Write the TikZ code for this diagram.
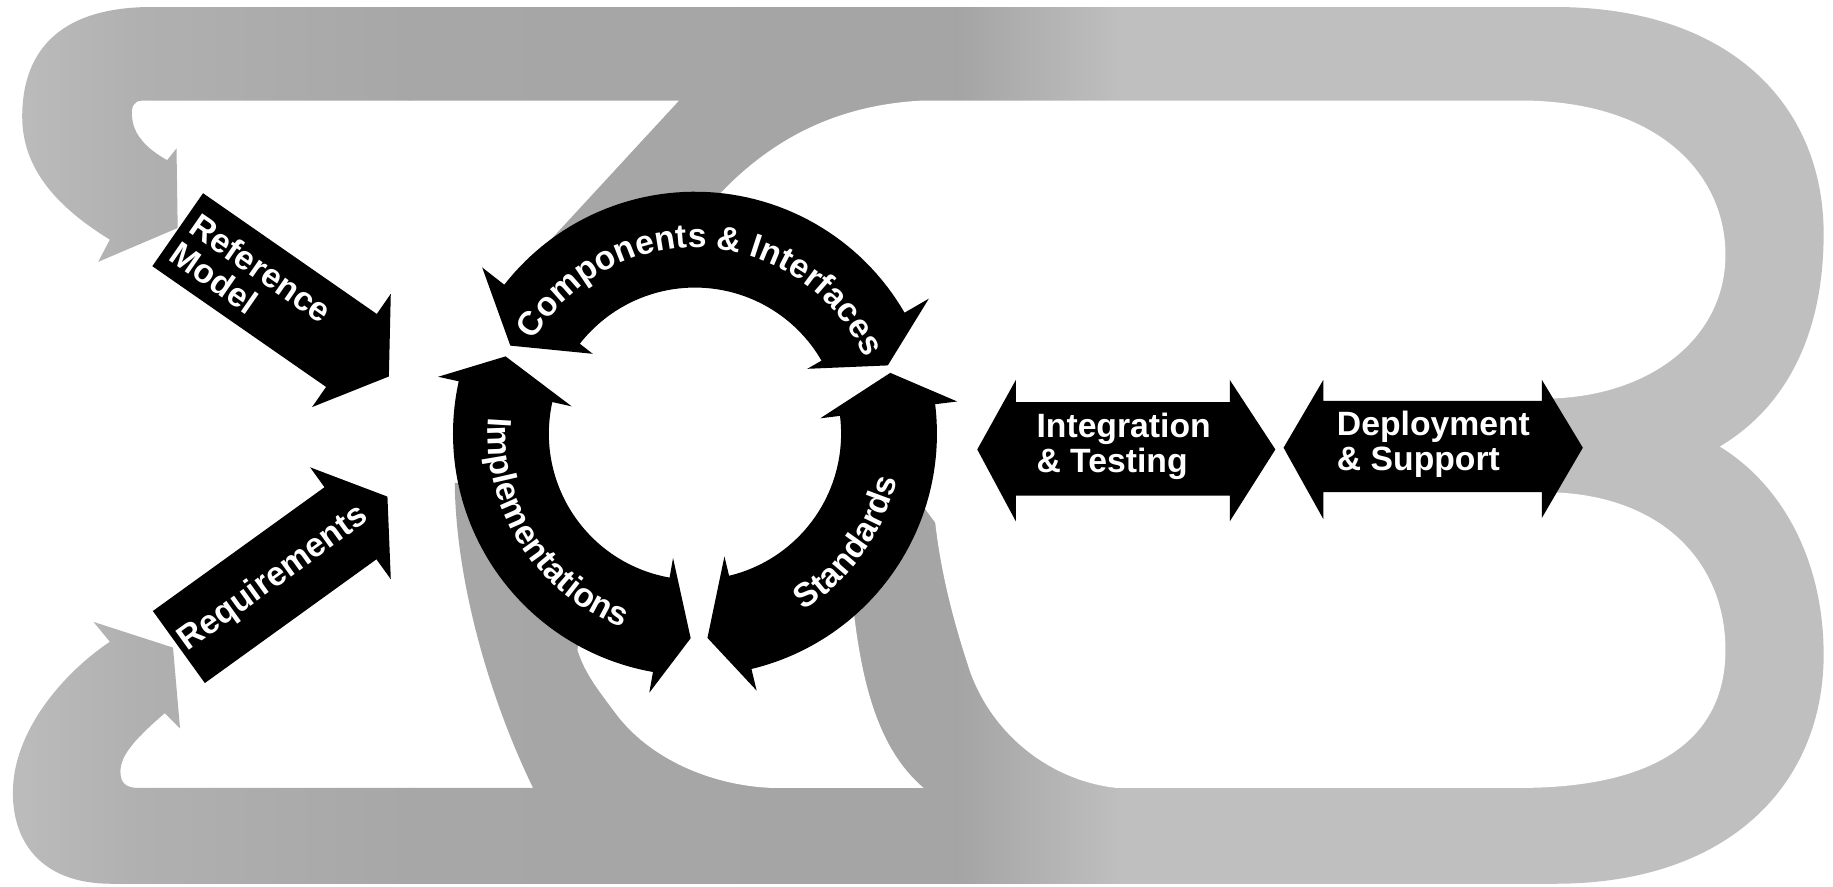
\documentclass[tikz,border=0pt]{standalone}
\usepackage{fontspec}
\setmainfont{Liberation Sans}
\usetikzlibrary{decorations.text}
\definecolor{gA}{gray}{0.74}
\definecolor{gB}{gray}{0.69}
\definecolor{gC}{gray}{0.655}
\definecolor{gD}{gray}{0.645}
\definecolor{gE}{gray}{0.75}
\tikzset{
  lbl/.style={text=white, font=\bfseries\fontsize{8.2}{8.4}\selectfont, inner sep=0pt},
  blackfill/.style={fill=black},
}
\newcommand{\ringarrow}[6]{%
  \fill[blackfill] (#1:175) -- (#2:#5) -- (#2:207)
    -- plot[domain=#2:#3, samples=60, variable=\t] (\t:207)
    -- (#3:#5) -- (#4:175) -- (#3:#6) -- (#3:125)
    -- plot[domain=#3:#2, samples=60, variable=\t] (\t:125)
    -- (#2:#6) -- cycle;}
\begin{document}
\begin{tikzpicture}[x=0.01cm, y=-0.01cm]
\useasboundingbox (0,0) rectangle (1568,758);
\fill[white] (0,0) rectangle (1568,758);

% gray band (outer outline)
\begin{scope}
\clip (130,6) -- (1330,6)
  .. controls (1480,6) and (1560,90) .. (1560,200)
  .. controls (1560,290) and (1525,350) .. (1471,382)
  .. controls (1525,415) and (1560,480) .. (1560,560)
  .. controls (1560,670) and (1480,756) .. (1330,756)
  -- (95,756)
  .. controls (40,756) and (11,725) .. (11,678)
  .. controls (11,625) and (55,575) .. (94,549)
  -- (80,532) -- (148,554) -- (154,623) -- (141,610)
  .. controls (118,630) and (103,645) .. (103,660)
  .. controls (103,670) and (108,674) .. (118,674)
  -- (456,674)
  .. controls (420,600) and (390,500) .. (389,413)
  -- (470,420) -- (520,300) -- (450,228) -- (581,86)
  -- (122,86) .. controls (114,86) and (112,92) .. (113,100)
  .. controls (114,115) and (125,127) .. (143,137)
  -- (151,127) -- (152,195) -- (84,224) -- (94,205)
  .. controls (50,178) and (19,145) .. (19,100)
  .. controls (19,40) and (55,6) .. (130,6) -- cycle;
\shade[left color=gA, right color=gB] (0,0) rectangle (121,758);
\shade[left color=gB, right color=gC] (120,0) rectangle (351,758);
\shade[left color=gC, right color=gD] (350,0) rectangle (821,758);
\shade[left color=gD, right color=gE] (820,0) rectangle (961,758);
\fill[gE] (960,0) rectangle (1568,758);
\end{scope}

% white hole (right part, under the ring)
\fill[white] (790,86) -- (1300,86)
  .. controls (1420,86) and (1476,150) .. (1476,218)
  .. controls (1476,290) and (1410,341) .. (1320,341)
  -- (1320,421)
  .. controls (1420,421) and (1476,480) .. (1476,556)
  .. controls (1476,630) and (1420,674) .. (1300,674)
  -- (955,674)
  .. controls (900,668) and (850,630) .. (830,575)
  .. controls (815,530) and (805,490) .. (800,447)
  -- (780,420) -- (745,440) -- (728,500)
  .. controls (735,580) and (750,640) .. (790,674)
  -- (660,674)
  .. controls (610,672) and (555,650) .. (525,608)
  .. controls (510,588) and (500,575) .. (494,556)
  -- (505,480) -- (540,300) -- (600,200) -- (610,172)
  .. controls (650,128) and (705,90) .. (790,86) -- cycle;

% ring of arrows
\begin{scope}[shift={(594.5,371)}]
\fill[white] (0,0) circle[radius=1.25cm];
\ringarrow{205.5}{218}{330}{340.5}{231}{111}
\ringarrow{342.7}{353}{436.5}{446.5}{226}{108}
\ringarrow{91.2}{100}{192.5}{202.2}{225}{108}
\path[decorate, decoration={text along path, text align=center, text color=white,
  text={|\bfseries\fontsize{8.2}{8.2}\selectfont|Components {\&} Interfaces}}]
  plot[domain=205:341, samples=90, variable=\t] (\t:159);
\path[decorate, decoration={text along path, text align=center, text color=white,
  text={|\bfseries\fontsize{8.2}{8.2}\selectfont|Implementations}}]
  plot[domain=196:99, samples=90, variable=\t] (\t:177);
\path[decorate, decoration={text along path, text align=center, text color=white,
  text={|\bfseries\fontsize{8.2}{8.2}\selectfont|Standards}}]
  plot[domain=66:5, samples=70, variable=\t] (\t:177);
\end{scope}

% Reference Model arrow
\begin{scope}[shift={(152,196.5)}, rotate=-34.8]
\fill[blackfill] (0,-38) -- (181,-38) -- (181,-59) -- (220,0) -- (181,59) -- (181,38) -- (0,38) -- cycle;
\node[lbl, rotate=-34.8, anchor=west, align=left] (refT) at (7,1) {Reference\\Model};
\end{scope}

% Requirements arrow
\begin{scope}[shift={(153,553.5)}, rotate=35.8]
\fill[blackfill] (0,-38) -- (181,-38) -- (181,-59) -- (220,0) -- (181,59) -- (181,38) -- (0,38) -- cycle;
\node[lbl, rotate=35.8] (reqT) at (100,0) {Requirements};
\end{scope}

% Integration & Testing
\fill[blackfill] (836,384.5) -- (869,325) -- (869,344) -- (1052,344) -- (1052,325)
  -- (1091,384.5) -- (1052,446) -- (1052,424) -- (869,424) -- (869,446) -- cycle;
\node[lbl, anchor=west, align=left] (intT) at (886,382) {Integration\\\& Testing};

% Deployment & Support
\fill[blackfill] (1098,383) -- (1132,325) -- (1132,343) -- (1319,343) -- (1319,325)
  -- (1354,383) -- (1319,443) -- (1319,421) -- (1132,421) -- (1132,444) -- cycle;
\node[lbl, anchor=west, align=left] (depT) at (1143,380) {Deployment\\\& Support};
\end{tikzpicture}
\end{document}
